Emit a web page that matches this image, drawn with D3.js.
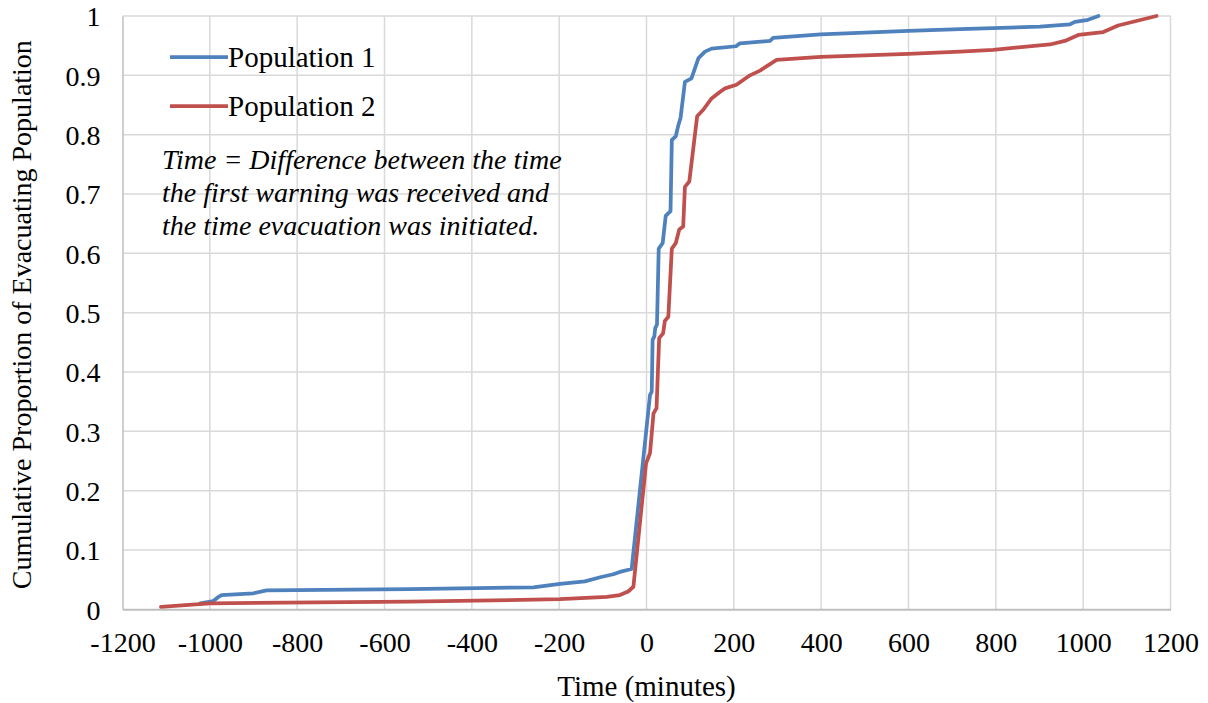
<!DOCTYPE html>
<html>
<head>
<meta charset="utf-8">
<script src="https://cdn.jsdelivr.net/npm/d3@7/dist/d3.min.js"></script>
<style>
  html, body { margin: 0; padding: 0; background: #ffffff; }
  svg { display: block; font-family: "Liberation Serif", "Times New Roman", serif; }
</style>
</head>
<body>
<svg id="chart" width="1208" height="703"></svg>
<script>
// Cumulative proportion of the evacuating population, by delay (minutes)
const seriesNames = ["Population 1", "Population 2"];
const seriesColors = ["#4f81bd", "#c0504d"];

const pop1Time = [-1022, -992, -980, -973, -900, -870, -542, -259, -198, -141, -106, -76, -61, -34,
  8, 12, 14, 18, 20, 24, 28, 37, 44, 55, 58, 67, 73, 78, 88, 103, 119, 134, 149,
  205, 214, 283, 290, 399, 600, 718, 901, 970, 981, 1008, 1035];
const pop1Prop = [0.010, 0.014, 0.021, 0.024, 0.027, 0.032, 0.034, 0.037, 0.043, 0.047, 0.054, 0.059, 0.063, 0.068,
  0.361, 0.367, 0.454, 0.460, 0.474, 0.480, 0.608, 0.617, 0.663, 0.671, 0.791, 0.797, 0.816, 0.828, 0.889, 0.895, 0.929, 0.940, 0.945,
  0.949, 0.954, 0.958, 0.963, 0.969, 0.975, 0.978, 0.982, 0.986, 0.990, 0.993, 1.000];

const pop2Time = [-1112, -1000, -542, -198, -91, -61, -42, -30, -1, 8, 16, 23, 29, 38, 42, 50,
  58, 67, 75, 84, 88, 98, 116, 130, 149, 168, 180, 206, 237, 260, 298, 399, 600, 718, 794,
  924, 958, 989, 1046, 1080, 1168];
const pop2Prop = [0.004, 0.010, 0.013, 0.017, 0.021, 0.024, 0.030, 0.038, 0.246, 0.263, 0.330, 0.339, 0.457, 0.465, 0.486, 0.493,
  0.608, 0.617, 0.640, 0.645, 0.712, 0.721, 0.831, 0.842, 0.861, 0.872, 0.878, 0.884, 0.900, 0.908, 0.926, 0.931, 0.936, 0.940, 0.943,
  0.952, 0.958, 0.968, 0.973, 0.984, 1.000];

const xTicks = [-1200, -1000, -800, -600, -400, -200, 0, 200, 400, 600, 800, 1000, 1200];
const yTicks = [0, 0.1, 0.2, 0.3, 0.4, 0.5, 0.6, 0.7, 0.8, 0.9, 1];
const noteLines = [
  "Time = Difference between the time",
  "the first warning was received and",
  "the time evacuation was initiated."
];
const xTitle = "Time (minutes)";
const yTitle = "Cumulative Proportion of Evacuating Population";

const svg = d3.select("#chart");
const plot = { left: 122.5, right: 1170.5, top: 16, bottom: 609.3 };

const x = d3.scaleLinear().domain([-1200, 1200]).range([plot.left, plot.right]);
const y = d3.scaleLinear().domain([0, 1]).range([plot.bottom, plot.top]);

// gridlines
const grid = svg.append("g");
grid.selectAll("line.v").data(xTicks.slice(1)).join("line")
  .attr("x1", d => x(d)).attr("x2", d => x(d))
  .attr("y1", plot.top).attr("y2", plot.bottom)
  .attr("stroke", "#d9d9d9").attr("stroke-width", 1.5);
grid.selectAll("line.h").data(yTicks.slice(1)).join("line")
  .attr("x1", plot.left).attr("x2", plot.right)
  .attr("y1", d => y(d)).attr("y2", d => y(d))
  .attr("stroke", "#d9d9d9").attr("stroke-width", 1.5);

// axes
const xAxis = svg.append("g").attr("transform", `translate(0,${plot.bottom})`)
  .call(d3.axisBottom(x).tickValues(xTicks).tickSize(0).tickPadding(23).tickFormat(d => String(d)));
const yAxis = svg.append("g").attr("transform", `translate(${plot.left},0)`)
  .call(d3.axisLeft(y).tickValues(yTicks).tickSize(0).tickPadding(22).tickFormat(d => d === 0 || d === 1 ? String(d) : d.toFixed(1)));

xAxis.select(".domain").attr("stroke", "#bfbfbf").attr("stroke-width", 2);
yAxis.select(".domain").attr("stroke", "#bfbfbf").attr("stroke-width", 1.5);
[xAxis, yAxis].forEach(a => a.selectAll("text")
  .attr("font-family", "Liberation Serif, Times New Roman, serif")
  .attr("font-size", 28).attr("fill", "#000"));
xAxis.selectAll("text").attr("dy", "0.71em");
yAxis.selectAll("text").attr("dy", "0.35em");

// series
const line = d3.line().x(d => x(d[0])).y(d => y(d[1]));
const series = [
  d3.zip(pop1Time, pop1Prop),
  d3.zip(pop2Time, pop2Prop)
];
svg.append("g").selectAll("path").data(series).join("path")
  .attr("d", line)
  .attr("fill", "none")
  .attr("stroke", (d, i) => seriesColors[i])
  .attr("stroke-width", 3.75)
  .attr("stroke-linejoin", "round")
  .attr("stroke-linecap", "round");

// legend
const legend = svg.append("g");
seriesNames.forEach((name, i) => {
  const ly = 57 + i * 49;
  legend.append("line")
    .attr("x1", 170).attr("x2", 228).attr("y1", ly).attr("y2", ly)
    .attr("stroke", seriesColors[i]).attr("stroke-width", 3.75);
  legend.append("text")
    .attr("x", 228).attr("y", ly).attr("dy", "0.35em")
    .attr("font-size", 29).attr("fill", "#000")
    .text(name);
});

// note
svg.append("g").selectAll("text").data(noteLines).join("text")
  .attr("x", 162).attr("y", (d, i) => 169 + i * 33)
  .attr("font-size", 28).attr("font-style", "italic").attr("fill", "#000")
  .text(d => d);

// axis titles
svg.append("text")
  .attr("x", x(0)).attr("y", 696)
  .attr("text-anchor", "middle").attr("font-size", 29).attr("fill", "#000")
  .text(xTitle);
svg.append("text")
  .attr("transform", `translate(31,${(plot.top + plot.bottom) / 2 + 2}) rotate(-90)`)
  .attr("text-anchor", "middle").attr("font-size", 28).attr("fill", "#000")
  .text(yTitle);
</script>
</body>
</html>
